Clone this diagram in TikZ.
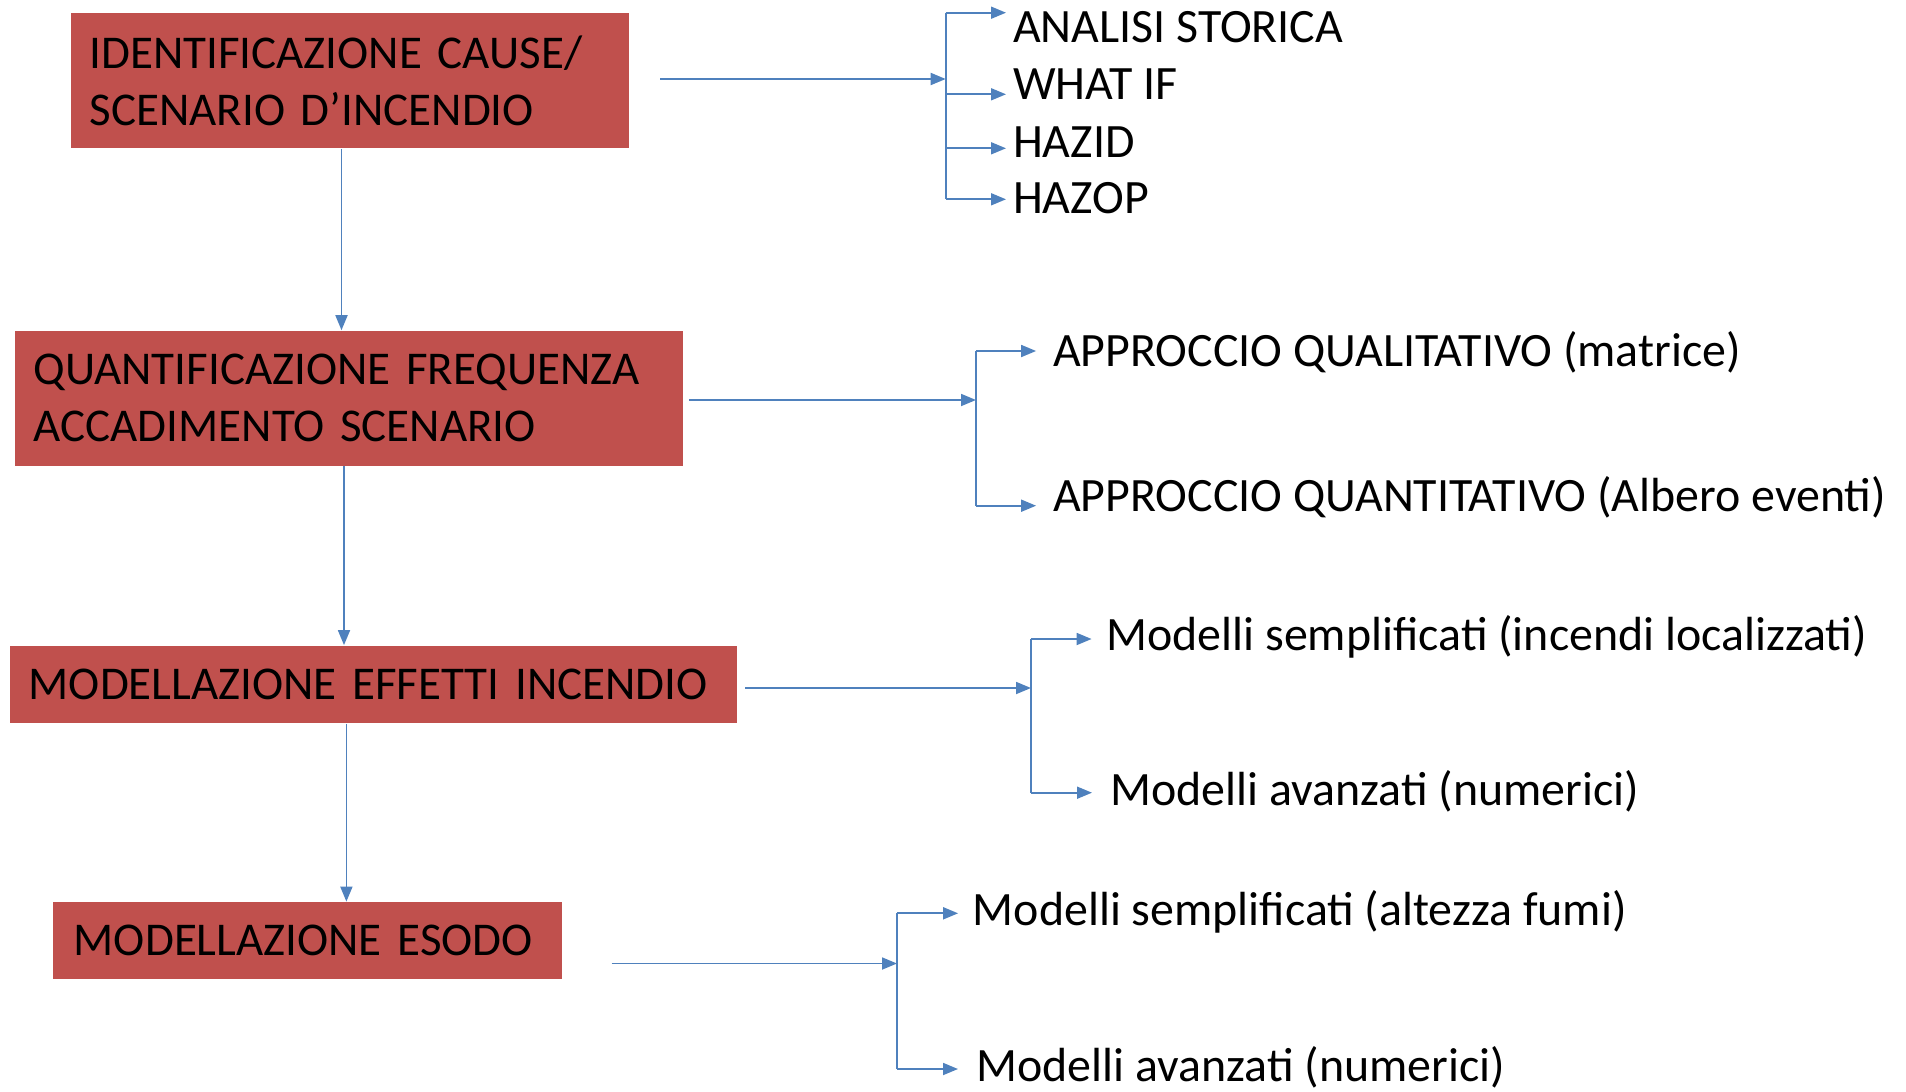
\documentclass[tikz,border=0pt]{standalone}
\usepackage{fontspec}
\setmainfont{Carlito}
\usetikzlibrary{arrows.meta,calc}
\definecolor{boxred}{RGB}{192,80,77}
\definecolor{lineblue}{RGB}{79,129,189}
\begin{document}
\begin{tikzpicture}[x=0.5pt,y=-0.5pt,
  every node/.style={font=\fontsize{23.5pt}{28.5pt}\selectfont},
  stepbox/.style={fill=boxred, draw=none, inner xsep=9.5pt, inner ysep=0pt, align=left, anchor=center},
  item/.style={anchor=base west, inner sep=0pt, font=\fontsize{23.95pt}{28.5pt}\selectfont},
  conn/.style={draw=lineblue, line width=0.9pt, -{Triangle[length=7.5pt,width=6pt]}},
  plain/.style={draw=lineblue, line width=0.9pt}]
\useasboundingbox (0,0) rectangle (1906,1092);

% main boxes
\node[stepbox, minimum width=279pt, minimum height=67.5pt, text width=260pt] (b1) at (349.5,80.9) {IDENTIFICAZIONE CAUSE/\\SCENARIO D’INCENDIO};
\node[stepbox, minimum width=334.2pt, minimum height=67.5pt, text width=315.2pt] (b2) at (348.8,398.1) {QUANTIFICAZIONE FREQUENZA\\ACCADIMENTO SCENARIO};
\node[stepbox, minimum width=363.5pt, minimum height=38.9pt, text width=344.5pt] (b3) at (373.2,684.4) {MODELLAZIONE EFFETTI INCENDIO};
\node[stepbox, minimum width=252.8pt, minimum height=38.3pt, text width=233.8pt, inner xsep=10.3pt] (b4) at (307.6,940.3) {MODELLAZIONE ESODO};

% vertical arrows
\draw[conn] ([xshift=-4pt]b1.south) -- ([xshift=-4pt]b1.south |- b2.north);
\draw[conn] ([xshift=-2.4pt]b2.south) -- ([xshift=-2.4pt]b2.south |- b3.north);
\draw[conn] ([xshift=-13.4pt]b3.south) -- ([xshift=-13.4pt]b3.south |- b4.north);

% row 1
\node[item] (a1) at (1012.6,42.7) {ANALISI STORICA};
\node[item] (a2) at (1012.6,99) {WHAT IF};
\node[item] (a3) at (1012.6,157) {HAZID};
\node[item] (a4) at (1012.6,213) {HAZOP};
\coordinate (s1) at (660,79);
\coordinate (j11) at (945.7,12.7);
\coordinate (j12) at (945.7,94.3);
\coordinate (j13) at (945.7,148.3);
\coordinate (j14) at (945.7,199.3);
\draw[conn] (s1) -- (s1 -| j11);
\draw[plain] (j11) -- (j14);
\draw[conn, shorten >=3.3pt] (j11) -- (j11 -| a1.west);
\draw[conn, shorten >=3.3pt] (j12) -- (j12 -| a2.west);
\draw[conn, shorten >=3.3pt] (j13) -- (j13 -| a3.west);
\draw[conn, shorten >=3.3pt] (j14) -- (j14 -| a4.west);

% row 2
\node[item] (c1) at (1052.7,366.5) {APPROCCIO QUALITATIVO (matrice)};
\node[item] (c2) at (1052.7,511) {APPROCCIO QUANTITATIVO (Albero eventi)};
\coordinate (s2) at (689,400);
\coordinate (j21) at (976,351);
\coordinate (j22) at (976,505.7);
\draw[conn] (s2) -- (s2 -| j21);
\draw[plain] (j21) -- (j22);
\draw[conn, shorten >=8.3pt] (j21) -- (j21 -| c1.west);
\draw[conn, shorten >=8.3pt] (j22) -- (j22 -| c2.west);

% row 3
\node[item] (d1) at (1106,650) {Modelli semplificati (incendi localizzati)};
\node[item] (d2) at (1110,805) {Modelli avanzati (numerici)};
\coordinate (s3) at (745,688);
\coordinate (j31) at (1031,639);
\coordinate (j32) at (1031,792.7);
\draw[conn] (s3) -- (s3 -| j31);
\draw[plain] (j31) -- (j32);
\draw[conn, shorten >=7.2pt] (j31) -- (j31 -| d1.west);
\draw[conn, shorten >=9pt] (j32) -- (j32 -| d2.west);

% row 4
\node[item] (e1) at (972.5,925) {Modelli semplificati (altezza fumi)};
\node[item] (e2) at (976,1081.7) {Modelli avanzati (numerici)};
\coordinate (s4) at (611.5,963.5);
\coordinate (j41) at (897,913.3);
\coordinate (j42) at (897,1069);
\draw[conn] (s4) -- (s4 -| j41);
\draw[plain] (j41) -- (j42);
\draw[conn, shorten >=7.2pt] (j41) -- (j41 -| e1.west);
\draw[conn, shorten >=9pt] (j42) -- (j42 -| e2.west);
\end{tikzpicture}
\end{document}
